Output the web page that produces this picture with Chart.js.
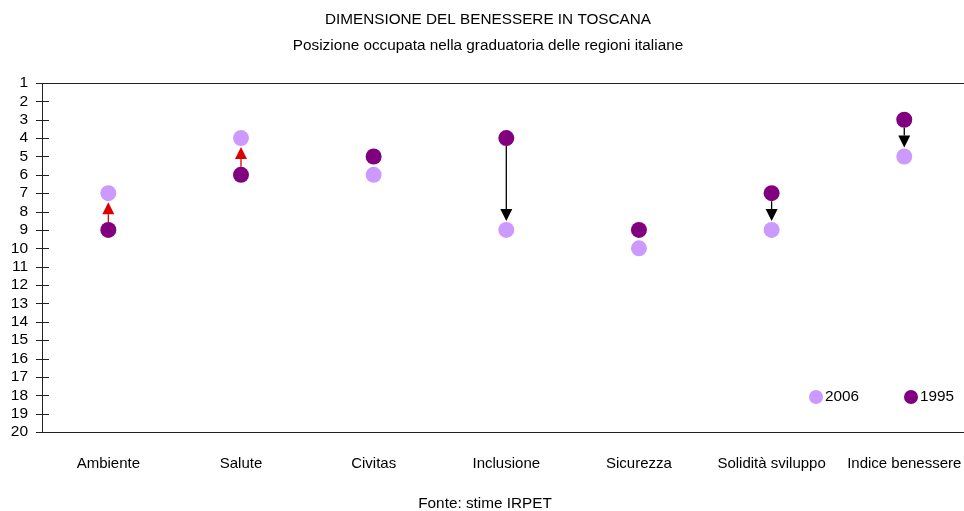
<!DOCTYPE html>
<html><head><meta charset="utf-8">
<style>html,body{margin:0;padding:0;background:#fff;overflow:hidden}#wrap{width:964px;height:511px;position:relative}</style>
<script src="https://cdn.jsdelivr.net/npm/chart.js@4/dist/chart.umd.min.js"></script>
</head><body><div id="wrap"><canvas id="c" width="964" height="511"></canvas></div>
<script>
const categories = ['Ambiente','Salute','Civitas','Inclusione','Sicurezza','Solidità sviluppo','Indice benessere'];
const rank2006 = [7, 4, 6, 9, 10, 9, 5];
const rank1995 = [9, 6, 5, 4, 9, 7, 3];
const showArrow = [true, true, false, true, false, true, true];
const yTickValues = [1,2,3,4,5,6,7,8,9,10,11,12,13,14,15,16,17,18,19,20];
const seriesLabels = ['2006', '1995'];
const titleText = 'DIMENSIONE DEL BENESSERE IN TOSCANA';
const subtitleText = 'Posizione occupata nella graduatoria delle regioni italiane';
const sourceText = 'Fonte: stime IRPET';

const FONT = "'Liberation Sans', Arial, sans-serif";
const C2006 = '#CC99FF';
const C1995 = '#800080';

function arrow(ctx, x, y1, y2, color, r) {
  const dir = y2 > y1 ? 1 : -1;
  const start = y1 + dir * r;
  const tip = y2 - dir * (r + 1);
  const headLen = 12, headW = 6;
  const base = tip - dir * headLen;
  ctx.save();
  ctx.strokeStyle = color; ctx.fillStyle = color; ctx.lineWidth = 1.3;
  ctx.beginPath(); ctx.moveTo(x, start); ctx.lineTo(x, base); ctx.stroke();
  ctx.beginPath(); ctx.moveTo(x, tip); ctx.lineTo(x - headW, base); ctx.lineTo(x + headW, base); ctx.closePath(); ctx.fill();
  ctx.restore();
}

const decor = {
  id: 'decor',
  beforeDatasetsDraw(chart) {
    const ctx = chart.ctx, xs = chart.scales.x, ys = chart.scales.y;
    categories.forEach((c, i) => {
      if (!showArrow[i]) return;
      const x = xs.getPixelForValue(i);
      const y1 = ys.getPixelForValue(rank1995[i]);
      const y2 = ys.getPixelForValue(rank2006[i]);
      const color = rank2006[i] < rank1995[i] ? '#DD0000' : '#000000';
      arrow(ctx, x, y1, y2, color, 8);
    });
  },
  afterDraw(chart) {
    const ctx = chart.ctx, a = chart.chartArea, ys = chart.scales.y;
    const right = chart.width;
    ctx.save();
    ctx.strokeStyle = '#222'; ctx.lineWidth = 1;
    ctx.beginPath();
    ctx.moveTo(a.left + 0.5, a.top); ctx.lineTo(a.left + 0.5, a.bottom);
    ctx.moveTo(a.left, a.top + 0.5); ctx.lineTo(right, a.top + 0.5);
    ctx.moveTo(a.left, Math.round(a.bottom) + 0.5); ctx.lineTo(right, Math.round(a.bottom) + 0.5);
    yTickValues.forEach(v => {
      const y = Math.round(ys.getPixelForValue(v)) + 0.5;
      ctx.moveTo(a.left - 6, y); ctx.lineTo(a.left + 7, y);
    });
    ctx.stroke();
    ctx.fillStyle = '#000'; ctx.textAlign = 'center'; ctx.textBaseline = 'middle';
    ctx.font = '15.3px ' + FONT;
    ctx.fillText(titleText, 488, 20);
    ctx.fillText(subtitleText, 488, 46);
    ctx.fillText(sourceText, 485, 504);
    const ly = 397;
    [[816, C2006, seriesLabels[0]], [911, C1995, seriesLabels[1]]].forEach(([lx, col, txt]) => {
      ctx.fillStyle = col; ctx.beginPath(); ctx.arc(lx, ly, 7, 0, Math.PI * 2); ctx.fill();
      ctx.fillStyle = '#000'; ctx.textAlign = 'left';
      ctx.fillText(txt, lx + 9, ly);
    });
    ctx.restore();
  }
};

new Chart(document.getElementById('c'), {
  type: 'scatter',
  data: {
    datasets: [
      { label: seriesLabels[0], data: rank2006.map((v, i) => ({ x: i, y: v })), backgroundColor: C2006, borderColor: C2006, pointRadius: 8, pointHoverRadius: 8, borderWidth: 0 },
      { label: seriesLabels[1], data: rank1995.map((v, i) => ({ x: i, y: v })), backgroundColor: C1995, borderColor: C1995, pointRadius: 8, pointHoverRadius: 8, borderWidth: 0 }
    ]
  },
  options: {
    responsive: false, animation: false, devicePixelRatio: 1,
    layout: { padding: { top: 83, right: 0, left: 0, bottom: 0 } },
    plugins: { legend: { display: false }, tooltip: { enabled: false }, title: { display: false } },
    scales: {
      x: {
        type: 'linear', min: -0.5, max: 6.39,
        afterBuildTicks: s => { s.ticks = categories.map((c, i) => ({ value: i })); },
        afterFit: s => { s.height = 79; s.paddingLeft = 0; s.paddingRight = 0; },
        ticks: { callback: v => categories[v], color: '#000', font: { family: FONT, size: 15 }, padding: 23, maxRotation: 0, autoSkip: false },
        grid: { display: false, drawTicks: false }, border: { display: false }
      },
      y: {
        type: 'linear', reverse: true, min: 1, max: 20,
        afterBuildTicks: s => { s.ticks = yTickValues.map(v => ({ value: v })); },
        afterFit: s => { s.width = 42; s.paddingTop = 0; s.paddingBottom = 0; },
        ticks: { color: '#000', font: { family: FONT, size: 15.5 }, padding: 14, autoSkip: false },
        grid: { display: false, drawTicks: false }, border: { display: false }
      }
    }
  },
  plugins: [decor]
});
</script>
</body></html>
